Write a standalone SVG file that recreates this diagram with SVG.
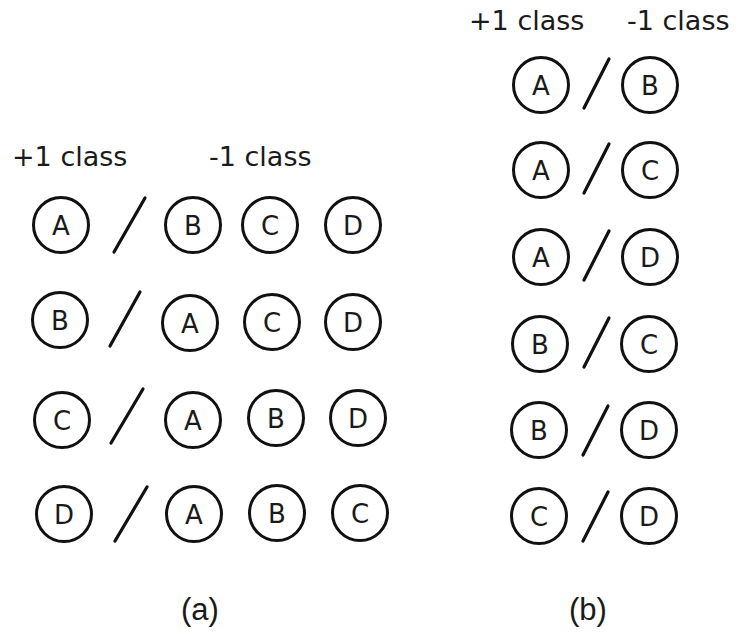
<svg xmlns="http://www.w3.org/2000/svg" width="738" height="635" viewBox="0 0 738 635">
<style>
.c{fill:none;stroke:#111;stroke-width:3}
.s{stroke:#111;stroke-width:3.2;stroke-linecap:round}
.t{font-family:"DejaVu Sans",sans-serif;font-size:26px;fill:#1a1a1a;text-anchor:middle}
.h{font-family:"DejaVu Sans",sans-serif;font-size:27px;fill:#1a1a1a}
.cap{font-family:"Liberation Sans",Arial,sans-serif;font-size:31px;fill:#1a1a1a;text-anchor:middle}
</style>
<rect width="738" height="635" fill="#fff"/>
<defs>
<g id="n"><circle class="c" r="27.5"/></g>
</defs>
<g id="labels">
<text class="h" x="12" y="166">+1 class</text>
<text class="h" x="209" y="166">-1 class</text>
<text class="h" x="469" y="30">+1 class</text>
<text class="h" x="627" y="30">-1 class</text>
<text class="cap" x="200" y="620">(a)</text>
<text class="cap" x="588" y="620">(b)</text>
</g>
<g id="connectors">
<line class="s" x1="145" y1="198" x2="114" y2="252"/>
<line class="s" x1="140" y1="292" x2="110" y2="346"/>
<line class="s" x1="143" y1="389" x2="111" y2="443"/>
<line class="s" x1="147" y1="487" x2="115" y2="541"/>
<line class="s" x1="609" y1="59" x2="584" y2="108"/>
<line class="s" x1="609" y1="144" x2="584" y2="193"/>
<line class="s" x1="609" y1="231" x2="584" y2="280"/>
<line class="s" x1="609" y1="318" x2="584" y2="367"/>
<line class="s" x1="608" y1="406" x2="583" y2="455"/>
<line class="s" x1="608" y1="492" x2="583" y2="541"/>
</g>
<g id="a-r1-A"><use href="#n" x="61" y="225"/><text class="t" x="61" y="235">A</text></g>
<g id="a-r1-B"><use href="#n" x="193" y="225"/><text class="t" x="193" y="235">B</text></g>
<g id="a-r1-C"><use href="#n" x="270" y="225"/><text class="t" x="270" y="235">C</text></g>
<g id="a-r1-D"><use href="#n" x="353" y="225"/><text class="t" x="353" y="235">D</text></g>
<g id="a-r2-B"><use href="#n" x="60" y="320"/><text class="t" x="60" y="330">B</text></g>
<g id="a-r2-A"><use href="#n" x="190" y="323"/><text class="t" x="190" y="333">A</text></g>
<g id="a-r2-C"><use href="#n" x="272" y="322"/><text class="t" x="272" y="332">C</text></g>
<g id="a-r2-D"><use href="#n" x="353" y="322"/><text class="t" x="353" y="332">D</text></g>
<g id="a-r3-C"><use href="#n" x="62" y="420"/><text class="t" x="62" y="430">C</text></g>
<g id="a-r3-A"><use href="#n" x="193" y="420"/><text class="t" x="193" y="430">A</text></g>
<g id="a-r3-B"><use href="#n" x="276" y="418"/><text class="t" x="276" y="428">B</text></g>
<g id="a-r3-D"><use href="#n" x="358" y="418"/><text class="t" x="358" y="428">D</text></g>
<g id="a-r4-D"><use href="#n" x="64" y="514"/><text class="t" x="64" y="524">D</text></g>
<g id="a-r4-A"><use href="#n" x="194" y="514"/><text class="t" x="194" y="524">A</text></g>
<g id="a-r4-B"><use href="#n" x="277" y="513"/><text class="t" x="277" y="523">B</text></g>
<g id="a-r4-C"><use href="#n" x="360" y="513"/><text class="t" x="360" y="523">C</text></g>
<g id="b-r1-A"><use href="#n" x="541" y="85"/><text class="t" x="541" y="95">A</text></g>
<g id="b-r1-B"><use href="#n" x="650" y="85"/><text class="t" x="650" y="95">B</text></g>
<g id="b-r2-A"><use href="#n" x="541" y="170"/><text class="t" x="541" y="180">A</text></g>
<g id="b-r2-C"><use href="#n" x="650" y="170"/><text class="t" x="650" y="180">C</text></g>
<g id="b-r3-A"><use href="#n" x="541" y="257"/><text class="t" x="541" y="267">A</text></g>
<g id="b-r3-D"><use href="#n" x="650" y="257"/><text class="t" x="650" y="267">D</text></g>
<g id="b-r4-B"><use href="#n" x="540" y="344"/><text class="t" x="540" y="354">B</text></g>
<g id="b-r4-C"><use href="#n" x="649" y="344"/><text class="t" x="649" y="354">C</text></g>
<g id="b-r5-B"><use href="#n" x="539" y="430"/><text class="t" x="539" y="440">B</text></g>
<g id="b-r5-D"><use href="#n" x="649" y="430"/><text class="t" x="649" y="440">D</text></g>
<g id="b-r6-C"><use href="#n" x="539" y="516"/><text class="t" x="539" y="526">C</text></g>
<g id="b-r6-D"><use href="#n" x="649" y="516"/><text class="t" x="649" y="526">D</text></g>
</svg>
